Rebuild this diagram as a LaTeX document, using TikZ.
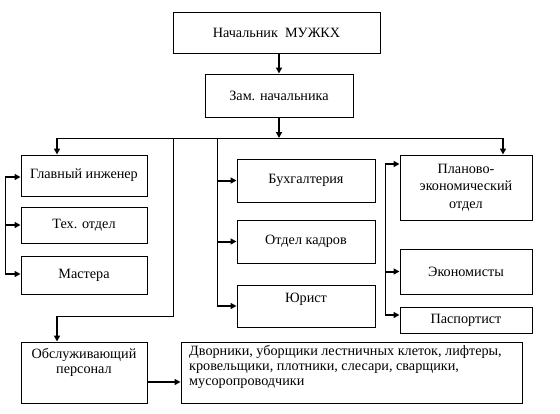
\documentclass[tikz,border=0pt]{standalone}
\usepackage{fontspec}
\setmainfont{Liberation Serif}
\usetikzlibrary{arrows.meta}
\begin{document}
\begin{tikzpicture}[x=1pt,y=-1pt,
  box/.style={draw,line width=1pt,inner sep=0pt,align=center,font=\fontsize{14.2}{17.5}\selectfont},
  thin/.style={line width=1pt},
  arr/.style={line width=2pt,-{Triangle[length=6pt,width=6pt]}},
  lbl/.style={font=\fontsize{14.2}{15.2}\selectfont,align=center,inner sep=0pt}]
\useasboundingbox (0,0) rectangle (560,413);
% boxes
\node[box,minimum width=207pt,minimum height=41pt] (nach) at (276.5,32.5) {Начальник~~МУЖКХ};
\node[box,minimum width=148pt,minimum height=43pt] (zam) at (279,95.5) {Зам. начальника};
\node[box,minimum width=126pt,minimum height=41pt] (glav) at (84,175.5) {Главный инженер};
\node[box,minimum width=126pt,minimum height=36pt] (tech) at (84,225) {Тех. отдел};
\node[box,minimum width=126pt,minimum height=38pt] (mast) at (84,275) {Мастера};
\node[box,minimum width=138pt,minimum height=43pt] (buh) at (306,180.5) {Бухгалтерия};
\node[box,minimum width=138pt,minimum height=43pt] (kadr) at (306,241.5) {Отдел кадров};
\node[box,minimum width=138pt,minimum height=42pt] (jur) at (306,306) {};
\node[lbl] (jurt) at (306,299) {Юрист};
\node[box,minimum width=132pt,minimum height=65pt] (plan) at (466,187.5) {Планово-\\экономический\\отдел};
\node[box,minimum width=132pt,minimum height=45pt] (econ) at (466,271.5) {Экономисты};
\node[box,minimum width=132pt,minimum height=26pt] (pasp) at (466,320) {Паспортист};
\node[box,minimum width=126pt,minimum height=61pt] (obsl) at (84,372.5) {};
\node[lbl] (obslt) at (84,362.5) {Обслуживающий\\персонал};
\node[box,minimum width=341pt,minimum height=61pt] (dvor) at (351.5,372.5) {};
\node[lbl,align=left,anchor=north west] (dvort) at (189,345) {Дворники, уборщики лестничных клеток, лифтеры,\\кровельщики, плотники, слесари, сварщики,\\мусоропроводчики};
% coordinates
\coordinate (busL) at (57,138);
\coordinate (busR) at (503,138);
\coordinate (busM) at (279,138);
\coordinate (v1) at (173,138);
\coordinate (v2) at (217,138);
\coordinate (v1b) at (173,316);
\coordinate (v1c) at (57,316);
\coordinate (lt) at (5,177);
\coordinate (lb) at (5,274);
\coordinate (rt) at (385,164);
\coordinate (rb) at (385,315);
% top connectors
\draw[arr] (nach.south -| busM) -- (zam.north -| busM);
\draw[arr] (zam.south -| busM) -- (busM);
\draw[thin] (busL) -- (busR);
\draw[arr] (busL) -- (busL |- glav.north);
\draw[arr] (busR) -- (busR |- plan.north);
% left column
\draw[thin] (lt) -- (lb);
\draw[arr] (lt) -- (glav.west |- lt);
\draw[arr] (lt |- tech.west) -- (tech.west);
\draw[arr] (lb) -- (mast.west |- lb);
% middle column
\draw[thin] (v2) -- (v2 |- jur.west);
\draw[arr] (v2 |- buh.west) -- (buh.west);
\draw[arr] (v2 |- kadr.west) -- (kadr.west);
\draw[arr] (v2 |- jur.west) -- (jur.west);
% right column
\draw[thin] (rt) -- (rb);
\draw[arr] (rt) -- (plan.west |- rt);
\draw[arr] (rt |- econ.west) -- (econ.west);
\draw[arr] (rb) -- (pasp.west |- rb);
% service staff
\draw[thin] (v1) -- (v1b) -- (v1c);
\draw[arr] (v1c) -- (obsl.north -| v1c);
\draw[arr] (obsl.east |- 0,382) -- (dvor.west |- 0,382);
\end{tikzpicture}
\end{document}
